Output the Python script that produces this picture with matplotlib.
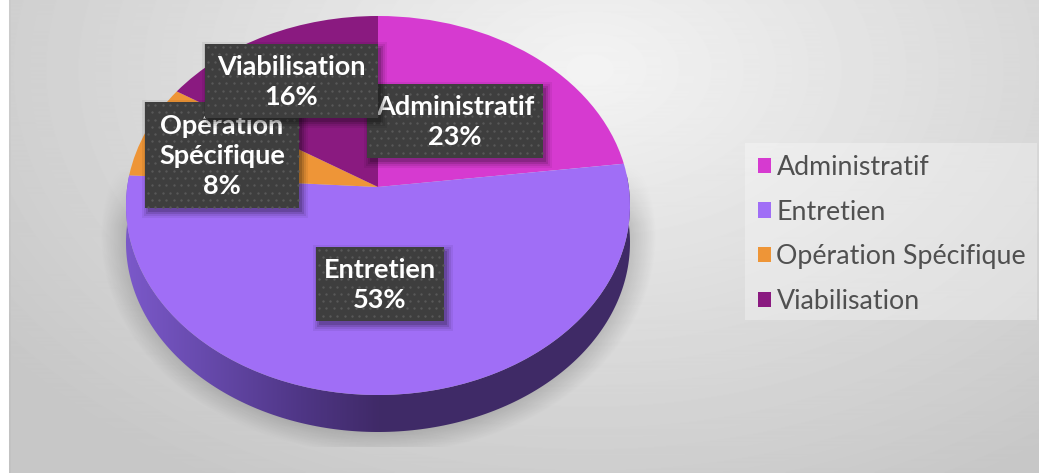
import numpy as np
import matplotlib
matplotlib.use('Agg')
import matplotlib.pyplot as plt
from matplotlib.patches import Rectangle, Polygon
from matplotlib.transforms import Transform

categories = ['Administratif', 'Entretien', 'Opération Spécifique', 'Viabilisation']
label_lines = ['Administratif', 'Entretien', 'Opération\nSpécifique', 'Viabilisation']
values = [23, 53, 8, 16]
colors = ['#d63ad0', '#a06ef6', '#ee9537', '#8a1a80']

W, H = 1039, 473
FONT = 'Lato'
plt.rcParams['font.family'] = [FONT, 'DejaVu Sans']


# tilted disc: unit circle -> pixel coordinates, with a vanishing point
class Tilt(Transform):
    input_dims = 2
    output_dims = 2

    def transform_non_affine(self, xy):
        xy = np.asarray(xy, dtype=float)
        w = 1 + 0.0976 * xy[:, 1]
        return np.column_stack((378 + 250.8 * xy[:, 0] / w, 187 - 187.7 * xy[:, 1] / w))


fig = plt.figure(figsize=(W / 100, H / 100), dpi=100)
ax = fig.add_axes([0, 0, 1, 1])

# background
yy, xx = np.mgrid[0:H, 0:W]
r = np.sqrt(((xx - 590) / 790) ** 2 + ((yy - 70) / 520) ** 2)
bg = np.clip(0.955 - 0.19 * r, 0.78, 1)
bg[:, :9] = 1
bg[:, 9:11] = bg[:, 9:11] - 0.02
ax.imshow(bg, cmap='gray', vmin=0, vmax=1, extent=(0, W, H, 0), zorder=0, aspect='auto')

# shadow under the disc
d = np.sqrt(((xx - 378) / 278) ** 2 + ((yy - 236) / 218) ** 2)
sh = np.clip((1 - d) / 0.12, 0, 1) * np.clip((yy - 165) / 60, 0, 1) * 0.2
sh[yy > 446] = 0
sh_img = np.zeros((H, W, 4))
sh_img[..., 3] = sh
ax.imshow(sh_img, extent=(0, W, H, 0), zorder=1, aspect='auto')

# pie top
wedges, _ = ax.pie(values, colors=colors, startangle=90, counterclock=False, radius=1)
tilt = Tilt()
for w in wedges:
    w.set_transform(tilt + ax.transData)
    w.set_zorder(3)
    w.set_linewidth(0)

# side wall
theta = np.radians(np.linspace(176, 364, 200))
rim = tilt.transform(np.column_stack((np.cos(theta), np.sin(theta))))
wall = Polygon(np.vstack((rim, (rim + [0, 37])[::-1])), closed=True, transform=ax.transData, fc='none', ec='none')
ax.add_patch(wall)
grad_x = np.arange(W)
stops_x = [130, 200, 300, 378, 640]
stops = np.array([[0x7a, 0x58, 0xc8], [0x68, 0x4b, 0xae], [0x4f, 0x36, 0x86], [0x40, 0x2a, 0x68], [0x3f, 0x2a, 0x66]]) / 255
grad = np.column_stack([np.interp(grad_x, stops_x, stops[:, i]) for i in range(3)])[None, :, :]
im = ax.imshow(grad, extent=(0, W, H, 0), zorder=2, aspect='auto')
im.set_clip_path(wall)


# data labels
def data_label(x0, x1, y0, y1, text, z):
    for grow, a in zip([6, 4, 2, 0], [0.06, 0.08, 0.12, 0.15]):
        ax.add_patch(Rectangle((x0 + 3 - grow, y0 + 4 - grow), x1 - x0 + 2 * grow, y1 - y0 + 2 * grow,
                               fc='black', ec='none', alpha=a, zorder=z))
    box = Rectangle((x0, y0), x1 - x0, y1 - y0, fc='#3e3e3e', ec='none', zorder=z + 0.1)
    ax.add_patch(box)
    gx, gy = np.meshgrid(np.arange(x0 + 3, x1, 7.3), np.arange(y0 + 3, y1, 7.3))
    gx[1::2] += 3.65
    dots = ax.scatter(gx.ravel(), gy.ravel(), s=3, c='#585858', linewidths=0, zorder=z + 0.2)
    dots.set_clip_path(box)
    ax.text((x0 + x1) / 2, (y0 + y1) / 2 + 1, text, color='white', fontsize=19.5, fontweight='bold', family=[FONT, 'DejaVu Sans'],
            ha='center', va='center', linespacing=1.3, zorder=z + 0.3)


boxes = [(367, 543, 84, 158), (316, 444, 247, 321), (145, 299, 102, 208), (205, 378, 44, 118)]
for i, b in enumerate(boxes):
    data_label(*b, f'{label_lines[i]}\n{values[i]}%', 5 + i)

# legend
ax.add_patch(Rectangle((745, 143), 292, 177, fc='white', ec='none', alpha=0.3, zorder=4))
ax.legend(wedges, categories, loc='upper left', bbox_to_anchor=(758, 155), bbox_transform=ax.transData,
          frameon=False, prop={'family': FONT, 'size': 19.3}, labelcolor='#505050',
          handlelength=0.5, handleheight=0.5, handletextpad=0.19, labelspacing=0.73,
          borderpad=0, borderaxespad=0).set_zorder(20)

ax.set_aspect('auto')
ax.set_xlim(0, W)
ax.set_ylim(H, 0)
ax.axis('off')
fig.savefig('out.png', dpi=100)
